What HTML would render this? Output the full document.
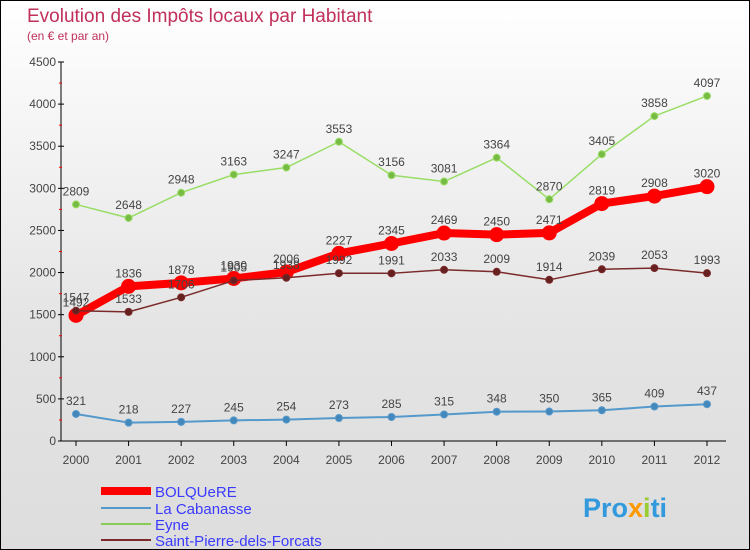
<!DOCTYPE html>
<html><head><meta charset="utf-8"><style>
body{margin:0}
#c{width:748px;height:548px;border:1px solid #000;background:linear-gradient(#fff,#e4e4e4 60%,#ddd);position:relative;font-family:"Liberation Sans",sans-serif;overflow:hidden}
</style></head><body>
<div id="c">
<svg id="s" width="748" height="548" xmlns="http://www.w3.org/2000/svg">
<text x="26" y="21" font-size="19" fill="#c0305a">Evolution des Impôts locaux par Habitant</text>
<text x="26" y="39" font-size="12" fill="#c0305a">(en € et par an)</text>
<g id="axes"></g><g id="series"></g>
<g font-size="15" fill="#3a3aff">
<line x1="100" y1="490" x2="150" y2="490" stroke="#f00" stroke-width="8"/>
<text x="154" y="496">BOLQUeRE</text>
<line x1="100" y1="507" x2="150" y2="507" stroke="#5599cc" stroke-width="2"/>
<text x="154" y="513">La Cabanasse</text>
<line x1="100" y1="523" x2="150" y2="523" stroke="#88cc55" stroke-width="2"/>
<text x="154" y="529">Eyne</text>
<line x1="100" y1="539" x2="150" y2="539" stroke="#7a2a2a" stroke-width="2"/>
<text x="154" y="545">Saint-Pierre-dels-Forcats</text>
</g>
<text x="582" y="516" font-size="27" font-weight="bold" fill="#3399dd">Pro<tspan fill="#ff9900">x</tspan><tspan fill="#99cc33">i</tspan>ti</text>
</svg></div>
<script>
const years=[2000,2001,2002,2003,2004,2005,2006,2007,2008,2009,2010,2011,2012];
const yTicks=[0,500,1000,1500,2000,2500,3000,3500,4000,4500];
const bolquere=[1492,1836,1878,1930,2006,2227,2345,2469,2450,2471,2819,2908,3020];
const cabanasse=[321,218,227,245,254,273,285,315,348,350,365,409,437];
const eyne=[2809,2648,2948,3163,3247,3553,3156,3081,3364,2870,3405,3858,4097];
const stpierre=[1547,1533,1706,1905,1938,1992,1991,2033,2009,1914,2039,2053,1993];
const NS="http://www.w3.org/2000/svg";
const X=i=>75+i*(706-75)/(years.length-1);
const Y=v=>440-v*(440-61)/4500;
function mk(t,a,p){const e=document.createElementNS(NS,t);for(const k in a)e.setAttribute(k,a[k]);p.appendChild(e);return e;}
const ax=document.getElementById('axes');
const yl=mk('line',{x1:60,y1:61,x2:60,y2:440,stroke:'#000'},ax);


const xl=mk('line',{x1:60,y1:440,x2:725,y2:440,stroke:'#000'},ax);


yTicks.forEach(v=>{mk('line',{x1:57,y1:Y(v),x2:63,y2:Y(v),stroke:'#000'},ax);
 if(v<4500)mk('line',{x1:58,y1:Y(v+250),x2:61,y2:Y(v+250),stroke:'#f00'},ax);
 const t=mk('text',{x:55,y:Y(v)+4,'font-size':12,fill:'#444','text-anchor':'end'},ax);t.textContent=v;
 
 });
years.forEach((y,i)=>{mk('line',{x1:X(i),y1:440,x2:X(i),y2:445,stroke:'#000'},ax);
 const t=mk('text',{x:X(i),y:463,'font-size':12,fill:'#444','text-anchor':'middle'},ax);t.textContent=y;
 
 });
const sg=document.getElementById('series');
function series(d,col,w,r,name,lc){
 const g=mk('g',{},sg);
 
 
 mk('polyline',{points:d.map((v,i)=>X(i)+','+Y(v)).join(' '),fill:'none',stroke:col,'stroke-width':w,'stroke-linejoin':'round'},g);
 d.forEach((v,i)=>{const c=mk('circle',{cx:X(i),cy:Y(v),r:r,fill:lc,stroke:col,'stroke-width':1},g);
  
  
  const t=mk('text',{x:X(i),y:Y(v)-9,'font-size':12,fill:'#444','text-anchor':'middle'},g);t.textContent=v;});
}
series(cabanasse,'#5599cc',2,3.5,'series-la-cabanasse','#4488bb');
series(eyne,'#99dd66',1.5,3.5,'series-eyne','#77bb44');
series(bolquere,'#f00',8,7,'series-bolquere','#f00');
series(stpierre,'#7a2a2a',1.5,3.5,'series-saint-pierre','#662020');
</script>
</body></html>
